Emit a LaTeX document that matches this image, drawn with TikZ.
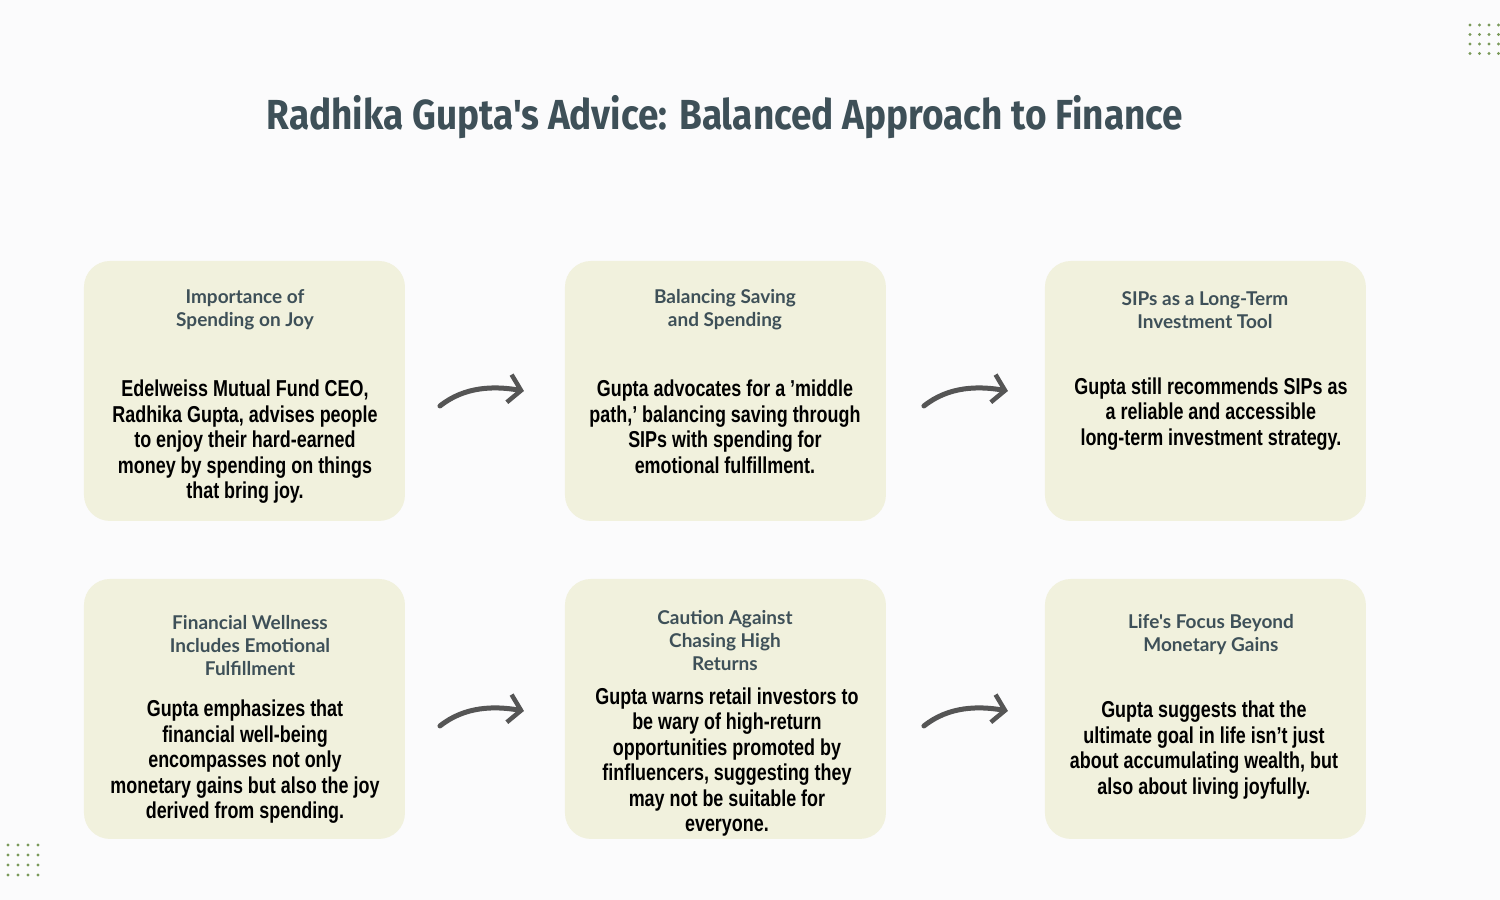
\documentclass[tikz,border=0pt]{standalone}
\usepackage{fontspec}
\setmainfont{Liberation Sans}[FakeStretch=0.78]
\newfontfamily\headfont{Lato}
\newfontfamily\titlefont{Fira Sans}[FakeStretch=0.88]
\usetikzlibrary{arrows.meta}
\definecolor{boxc}{HTML}{F1F1DD}
\definecolor{headc}{HTML}{3E5058}
\definecolor{arrc}{HTML}{555555}
\definecolor{dotc}{HTML}{7A9A5A}
\begin{document}
\begin{tikzpicture}[x=1pt,y=-1pt,
  card/.style={fill=boxc,rounded corners=26pt,draw=none},
  head/.style={text=headc,font=\headfont\bfseries\fontsize{19}{23}\selectfont,align=center},
  body/.style={font=\bfseries\fontsize{23}{25.5}\selectfont,align=center},
  flow/.style={draw=arrc,line width=5pt,line cap=round,-{Straight Barb[length=12pt,width=28pt,line width=4.5pt]}}]
\fill[fill={rgb,255:red,251;green,251;blue,252}] (0,0) rectangle (1500,900);
\foreach \i in {0,...,3}\foreach \j in {0,...,3}{
  \fill[dotc] (1470+\i*9.5,25+\j*9.5) circle (1.6pt);
  \fill[dotc] (8+\i*10,845+\j*10) circle (1.6pt);}
\node[text=headc,font=\titlefont\bfseries\fontsize{42}{46}\selectfont] (title) at (725,117) {Radhika Gupta's Advice: Balanced Approach to Finance};
\foreach \n/\x/\y in {a/84/261,b/565/261,c/1045/261,d/84/579,e/565/579,f/1045/579}
  \path[card] (\x,\y) rectangle ++(321,260) coordinate (\n);
\node[head] (h1) at (245,310) {Importance of\\Spending on Joy};
\node[body] (b1) at (245,442) {Edelweiss Mutual Fund CEO,\\Radhika Gupta, advises people\\to enjoy their hard-earned\\money by spending on things\\that bring joy.};
\node[head] (h2) at (725,310) {Balancing Saving\\and Spending};
\node[body] (b2) at (725,427) {Gupta advocates for a 'middle\\path,' balancing saving through\\SIPs with spending for\\emotional fulfillment.};
\node[head] (h3) at (1205,310) {SIPs as a Long-Term\\Investment Tool};
\node[body] (b3) at (1211,414) {Gupta still recommends SIPs as\\a reliable and accessible\\long-term investment strategy.};
\node[head] (h4) at (250,646) {Financial Wellness\\Includes Emotional\\Fulfillment};
\node[body] (b4) at (245,762) {Gupta emphasizes that\\financial well-being\\encompasses not only\\monetary gains but also the joy\\derived from spending.};
\node[head] (h5) at (725,641) {Caution Against\\Chasing High\\Returns};
\node[body] (b5) at (727,762) {Gupta warns retail investors to\\be wary of high-return\\opportunities promoted by\\finfluencers, suggesting they\\may not be suitable for\\everyone.};
\node[head] (h6) at (1211,635) {Life's Focus Beyond\\Monetary Gains};
\node[body] (b6) at (1204,750) {Gupta suggests that the\\ultimate goal in life isn't just\\about accumulating wealth, but\\also about living joyfully.};
\foreach \x/\y/\n in {440/406/p,924/406/q,440/726/r,924/726/s}{
  \coordinate (\n1) at (\x,\y);
  \coordinate (\n2) at (\x+84,\y-15);
  \draw[flow] (\n1) .. controls (\x+25,\y-20) and (\x+55,\y-20) .. (\n2);}
\end{tikzpicture}
\end{document}
